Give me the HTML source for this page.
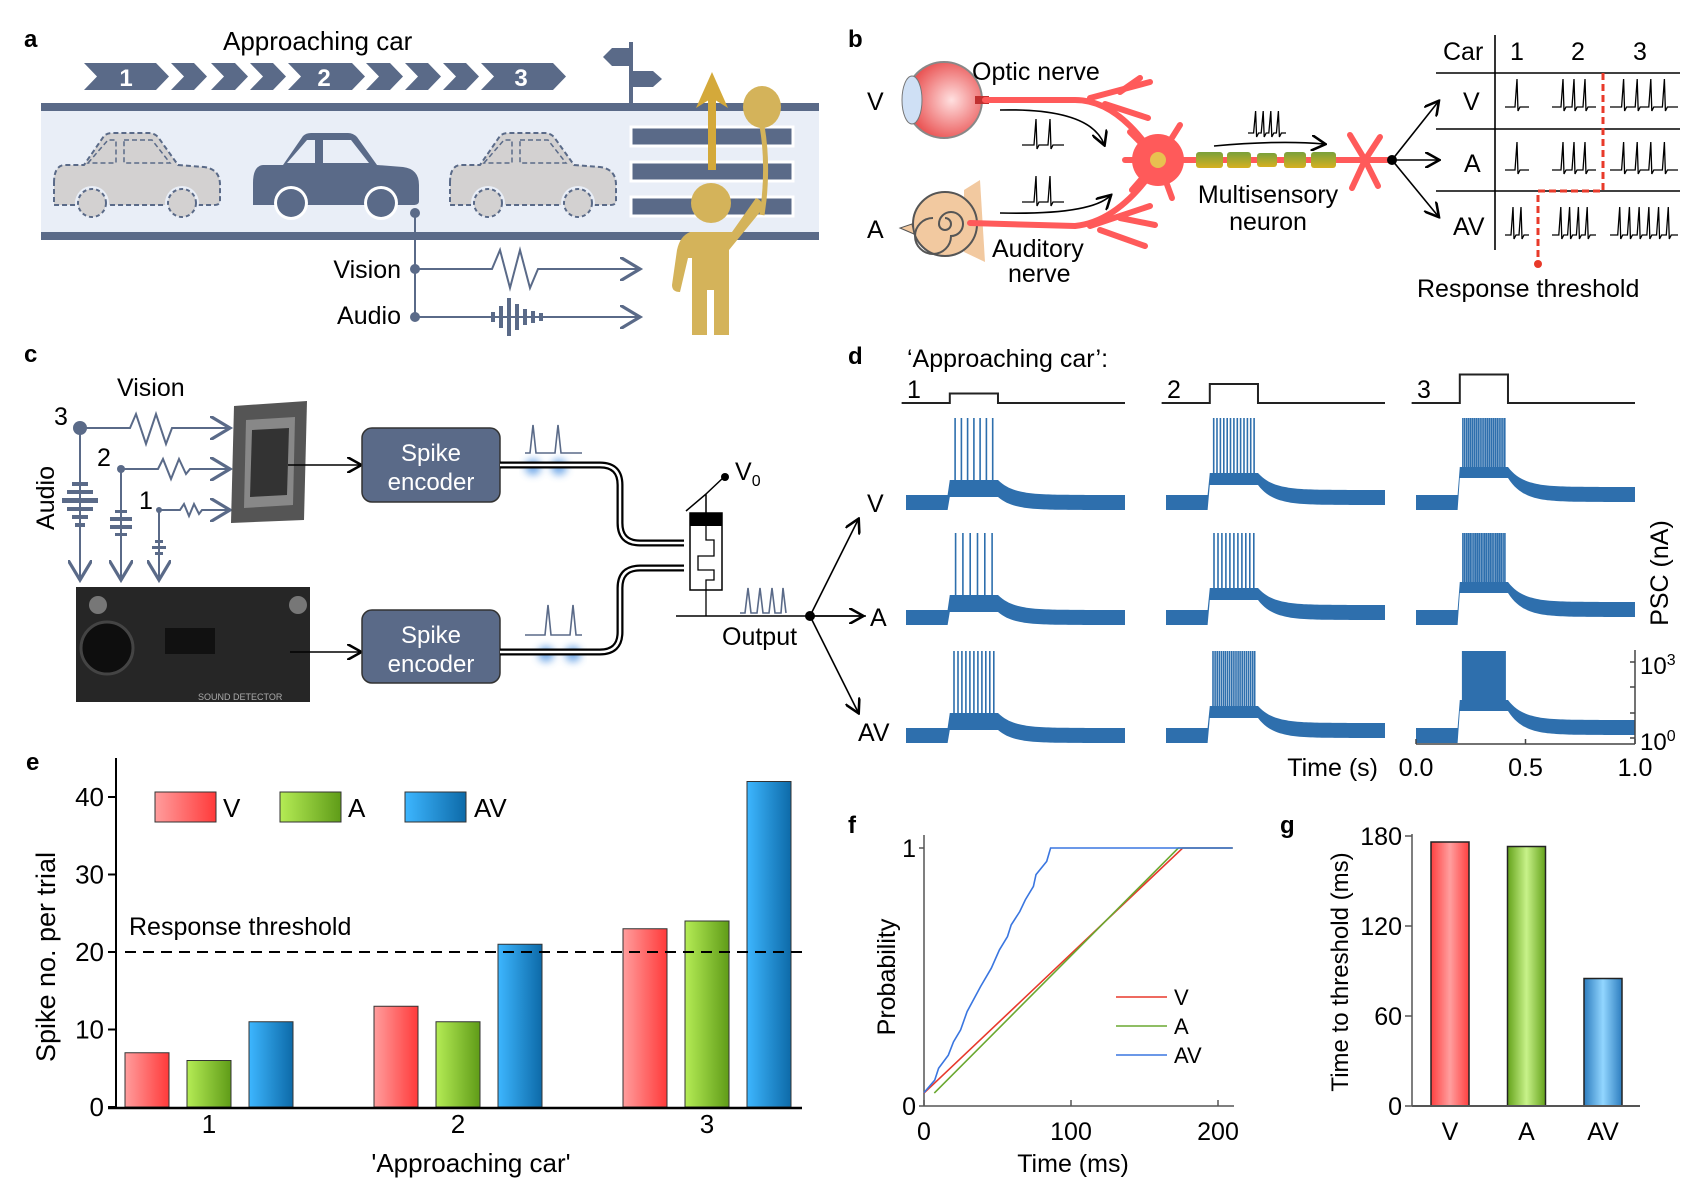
<!DOCTYPE html>
<html><head><meta charset="utf-8"><style>
html,body{margin:0;padding:0;background:#fff}
svg{display:block;font-family:"Liberation Sans",Arial,sans-serif}
</style></head><body>
<svg id="fig" width="1706" height="1188" viewBox="0 0 1706 1188" xmlns="http://www.w3.org/2000/svg">
<defs>
<linearGradient id="gV" x1="0" x2="1"><stop offset="0" stop-color="#ff9d9d"/><stop offset="1" stop-color="#ff3a3a"/></linearGradient>
<linearGradient id="gA" x1="0" x2="1"><stop offset="0" stop-color="#b5ec55"/><stop offset="1" stop-color="#5f9c18"/></linearGradient>
<linearGradient id="gAV" x1="0" x2="1"><stop offset="0" stop-color="#3db6ff"/><stop offset="1" stop-color="#0d6aa8"/></linearGradient>
<linearGradient id="hV" x1="0" x2="1"><stop offset="0" stop-color="#ff4040"/><stop offset="0.5" stop-color="#ff9f9f"/><stop offset="1" stop-color="#ff4040"/></linearGradient>
<linearGradient id="hA" x1="0" x2="1"><stop offset="0" stop-color="#64a21a"/><stop offset="0.5" stop-color="#c8f28a"/><stop offset="1" stop-color="#64a21a"/></linearGradient>
<linearGradient id="hAV" x1="0" x2="1"><stop offset="0" stop-color="#2d7dbf"/><stop offset="0.5" stop-color="#92d6ff"/><stop offset="1" stop-color="#2d7dbf"/></linearGradient>
<linearGradient id="myel" x1="0" y1="0" x2="0" y2="1"><stop offset="0" stop-color="#7aa03a"/><stop offset="1" stop-color="#d6b020"/></linearGradient>
<radialGradient id="eyeG" cx="0.6" cy="0.5" r="0.6"><stop offset="0" stop-color="#ffe0e0"/><stop offset="1" stop-color="#e84848"/></radialGradient>
<filter id="blur"><feGaussianBlur stdDeviation="4"/></filter>
<marker id="arr" markerWidth="10" markerHeight="10" refX="8" refY="5" orient="auto"><path d="M0,0 L9,5 L0,10" fill="none" stroke="#000" stroke-width="1.6"/></marker>
<marker id="arrG" markerWidth="12" markerHeight="12" refX="9" refY="6" orient="auto"><path d="M0,0 L10,6 L0,12" fill="none" stroke="#5a6a88" stroke-width="1.6"/></marker>
</defs>

<!-- Panel letters -->
<g font-weight="bold" font-size="24">
<text x="24" y="47">a</text>
<text x="848" y="47">b</text>
<text x="24" y="362">c</text>
<text x="848" y="364">d</text>
<text x="26" y="770">e</text>
<text x="848" y="833">f</text>
<text x="1280" y="833">g</text>
</g>

<!-- ===== Panel a ===== -->
<g id="panelA">
<text x="223" y="50" font-size="26">Approaching car</text>
<g id="chev" fill="#5a6a88"></g>
<g fill="#fff" font-weight="bold" font-size="24" text-anchor="middle">
<text x="126" y="86">1</text><text x="324" y="86">2</text><text x="521" y="86">3</text></g>
<g><line x1="631" y1="42" x2="631" y2="104" stroke="#5a6a88" stroke-width="4"/>
<polygon points="603,57 612,48 631,48 631,66 612,66" fill="#5a6a88"/><polygon points="631,71 653,71 662,79 653,87 631,87" fill="#5a6a88"/></g>
<rect x="41" y="103" width="778" height="136" fill="#e9eef7"/>
<rect x="41" y="103" width="778" height="8" fill="#5a6a88"/>
<rect x="41" y="232" width="778" height="8" fill="#5a6a88"/>
<g id="cars"></g>
<g fill="#5a6a88" stroke="#fff" stroke-width="3">
<rect x="631" y="127" width="162" height="19"/><rect x="631" y="162" width="162" height="19"/><rect x="631" y="197" width="162" height="19"/></g>
<g>
<line x1="712" y1="170" x2="712" y2="90" stroke="#d4a93a" stroke-width="8"/>
<polygon points="712,72 696,108 712,98 728,108" fill="#d4a93a"/>
<path d="M762,126 Q768,160 764,200 L762,215" fill="none" stroke="#d4b35a" stroke-width="5"/>
<ellipse cx="762" cy="107" rx="19" ry="21" fill="#d4b35a"/>
<circle cx="711" cy="203" r="20" fill="#d4b35a"/>
<path d="M690,232 Q680,236 677,250 L672,285 Q672,292 680,292 L688,258 L692,258 L692,335 L707,335 L707,290 L714,290 L714,335 L729,335 L729,250 L760,212 Q766,202 756,198 L732,232 Z" fill="#d4b35a"/>
</g>
<g stroke="#5a6a88" stroke-width="2" fill="none">
<line x1="415" y1="213" x2="415" y2="317"/>
<circle cx="415" cy="213" r="4" fill="#5a6a88"/><circle cx="415" cy="269" r="4" fill="#5a6a88"/><circle cx="415" cy="317" r="4" fill="#5a6a88"/>
<path d="M415,269 L492,269 L500,250 L510,288 L520,250 L530,288 L538,269 L638,269" marker-end="url(#arrG)"/>
<path d="M415,317 L638,317" marker-end="url(#arrG)"/>
<g stroke-width="4"><line x1="493" y1="312" x2="493" y2="322"/><line x1="501" y1="306" x2="501" y2="328"/><line x1="509" y1="298" x2="509" y2="336"/><line x1="517" y1="304" x2="517" y2="330"/><line x1="525" y1="309" x2="525" y2="325"/><line x1="533" y1="311" x2="533" y2="323"/><line x1="541" y1="313" x2="541" y2="321"/></g>
</g>
<text x="401" y="278" font-size="25" text-anchor="end">Vision</text>
<text x="401" y="324" font-size="25" text-anchor="end">Audio</text>
</g>

<!-- ===== Panel b ===== -->
<g id="panelB">
<text x="867" y="110" font-size="25">V</text>
<text x="867" y="238" font-size="25">A</text>
<g><circle cx="944" cy="100" r="38" fill="url(#eyeG)" stroke="#888" stroke-width="2"/>
<ellipse cx="912" cy="100" rx="10" ry="24" fill="#cfe0f5" stroke="#777"/><rect x="975" y="96" width="14" height="8" fill="#c03030"/></g>
<g><polygon points="964,190 980,180 985,262 964,252" fill="#f2c9a0"/>
<circle cx="945" cy="224" r="32" fill="#f2c9a0" stroke="#555" stroke-width="2"/>
<path d="M945,224 m0,-6 a6,6 0 1,1 -6,6 a12,12 0 1,1 12,12 a18,18 0 1,1 -18,-18" fill="none" stroke="#555" stroke-width="2"/>
<polygon points="912,224 900,228 914,234" fill="#f2c9a0" stroke="#555"/></g>
<g stroke="#ff5a5a" stroke-width="6" fill="none" stroke-linecap="round">
<path d="M985,100 L1075,100 Q1115,100 1150,150"/><path d="M1090,98 L1150,82"/><path d="M1105,104 L1148,118"/><path d="M1120,92 L1140,78"/>
<path d="M970,223 L1075,226 Q1115,222 1150,175"/><path d="M1090,226 L1150,206"/><path d="M1100,230 L1145,246"/><path d="M1120,218 L1155,225"/>
<path d="M1150,160 L1390,160"/><path d="M1158,160 L1130,132"/><path d="M1158,160 L1180,125"/><path d="M1158,160 L1132,190"/><path d="M1158,160 L1172,198"/><path d="M1158,160 L1125,160"/>
<path d="M1365,160 L1350,135"/><path d="M1365,160 L1380,137"/><path d="M1365,160 L1352,188"/><path d="M1365,160 L1378,186"/>
</g>
<circle cx="1158" cy="160" r="26" fill="#ff5a5a"/><circle cx="1158" cy="160" r="8" fill="#e8c050"/>
<g fill="url(#myel)">
<rect x="1196" y="152" width="27" height="16" rx="3"/><rect x="1227" y="152" width="24" height="16" rx="3"/><rect x="1257" y="153" width="20" height="14" rx="3"/><rect x="1284" y="152" width="22" height="16" rx="3"/><rect x="1311" y="152" width="25" height="16" rx="3"/></g>
<text x="972" y="80" font-size="25">Optic nerve</text>
<text x="992" y="257" font-size="25">Auditory</text>
<text x="1008" y="282" font-size="25">nerve</text>
<text x="1268" y="203" font-size="25" text-anchor="middle">Multisensory</text>
<text x="1268" y="230" font-size="25" text-anchor="middle">neuron</text>
<g fill="none" stroke="#000" stroke-width="1.6">
<path d="M1000,110 Q1090,108 1104,144" marker-end="url(#arr)"/><path d="M1000,213 Q1090,215 1110,196" marker-end="url(#arr)"/><path d="M1214,146 Q1280,140 1324,144" marker-end="url(#arr)"/>
<path d="M1392,160 L1438,102" marker-end="url(#arr)"/><path d="M1392,160 L1438,160" marker-end="url(#arr)"/><path d="M1392,160 L1438,216" marker-end="url(#arr)"/></g>
<circle cx="1392" cy="160" r="5" fill="#000"/>
<g id="bSpikes" fill="none" stroke="#000" stroke-width="1.3"></g>
<g stroke="#000" stroke-width="1.6">
<line x1="1495" y1="35" x2="1495" y2="250"/><line x1="1436" y1="73" x2="1680" y2="73"/><line x1="1436" y1="129" x2="1680" y2="129"/><line x1="1436" y1="191" x2="1680" y2="191"/></g>
<g font-size="25">
<text x="1443" y="60">Car</text><text x="1510" y="60">1</text><text x="1571" y="60">2</text><text x="1633" y="60">3</text>
<text x="1463" y="110">V</text><text x="1464" y="172">A</text><text x="1453" y="235">AV</text></g>
<path d="M1603,73 L1603,191 L1538,191 L1538,262" fill="none" stroke="#e83a2a" stroke-width="3" stroke-dasharray="7,4"/>
<circle cx="1538" cy="264" r="4" fill="#e83a2a"/>
<text x="1417" y="297" font-size="25">Response threshold</text>
</g>

<!-- ===== Panel c ===== -->
<g id="panelC">
<text x="117" y="396" font-size="25">Vision</text>
<text transform="translate(54,498) rotate(-90)" font-size="25" text-anchor="middle">Audio</text>
<g font-size="25"><text x="54" y="425">3</text><text x="97" y="466">2</text><text x="139" y="509">1</text></g>
<g stroke="#5a6a88" stroke-width="2" fill="none">
<path d="M80,428 L130,428 L136,414 L146,444 L156,414 L166,444 L172,428 L228,428" marker-end="url(#arrG)"/>
<path d="M121,469 L158,469 L163,459 L171,479 L179,459 L186,474 L190,469 L228,469" marker-end="url(#arrG)"/>
<path d="M159,510 L180,510 L184,504 L189,516 L194,504 L199,514 L202,510 L228,510" marker-end="url(#arrG)"/>
<path d="M80,428 L80,578" marker-end="url(#arrG)"/><path d="M121,469 L121,578" marker-end="url(#arrG)"/><path d="M159,510 L159,578" marker-end="url(#arrG)"/>
</g>
<g fill="#5a6a88">
<circle cx="80" cy="428" r="7"/><circle cx="121" cy="469" r="4"/><circle cx="159" cy="510" r="3"/>
<rect x="72" y="482" width="16" height="4"/><rect x="67" y="490" width="26" height="4"/><rect x="62" y="498" width="36" height="5"/><rect x="67" y="507" width="26" height="4"/><rect x="72" y="515" width="16" height="4"/><rect x="75" y="523" width="10" height="4"/>
<rect x="115" y="510" width="12" height="3"/><rect x="110" y="517" width="22" height="4"/><rect x="110" y="525" width="22" height="4"/><rect x="115" y="533" width="12" height="3"/>
<rect x="155" y="540" width="8" height="3"/><rect x="152" y="546" width="14" height="3"/><rect x="155" y="552" width="8" height="3"/></g>
<g><polygon points="234,406 307,401 304,520 231,523" fill="#555"/><polygon points="246,420 295,417 293,505 244,508" fill="#888"/><polygon points="252,430 289,428 287,495 250,497" fill="#333"/></g>
<g><rect x="76" y="587" width="234" height="115" fill="#262626"/>
<circle cx="107" cy="648" r="26" fill="#0e0e0e" stroke="#444" stroke-width="3"/><rect x="165" y="628" width="50" height="26" fill="#111"/>
<circle cx="98" cy="605" r="9" fill="#777"/><circle cx="298" cy="605" r="9" fill="#777"/>
<text x="198" y="700" font-size="9" fill="#aaa">SOUND DETECTOR</text></g>
<g stroke="#000" stroke-width="1.6" fill="none">
<path d="M288,465 L360,465" marker-end="url(#arr)"/><path d="M290,652 L360,652" marker-end="url(#arr)"/></g>
<g><rect x="362" y="428" width="138" height="74" rx="10" fill="#5a6a88" stroke="#333" stroke-width="1.5"/>
<text x="431" y="461" fill="#fff" font-size="24" text-anchor="middle">Spike</text><text x="431" y="490" fill="#fff" font-size="24" text-anchor="middle">encoder</text></g>
<g><rect x="362" y="610" width="138" height="73" rx="10" fill="#5a6a88" stroke="#333" stroke-width="1.5"/>
<text x="431" y="643" fill="#fff" font-size="24" text-anchor="middle">Spike</text><text x="431" y="672" fill="#fff" font-size="24" text-anchor="middle">encoder</text></g>
<g fill="#4a90e2" opacity="0.75" filter="url(#blur)">
<circle cx="533" cy="467" r="8"/><circle cx="559" cy="467" r="8"/><circle cx="546" cy="654" r="8"/><circle cx="573" cy="654" r="8"/></g>
<g fill="none">
<path d="M500,465 L600,465 Q620,465 620,485 L620,523 Q620,543 640,543 L684,543" stroke="#000" stroke-width="7"/>
<path d="M500,465 L600,465 Q620,465 620,485 L620,523 Q620,543 640,543 L684,543" stroke="#fff" stroke-width="2.5"/>
<path d="M500,652 L600,652 Q620,652 620,632 L620,588 Q620,568 640,568 L684,568" stroke="#000" stroke-width="7"/>
<path d="M500,652 L600,652 Q620,652 620,632 L620,588 Q620,568 640,568 L684,568" stroke="#fff" stroke-width="2.5"/></g>
<g fill="none" stroke="#5a6a88" stroke-width="1.6">
<path d="M525,453 L530,453 L533,425 L536,453 L555,453 L558,425 L561,453 L582,453"/>
<path d="M525,635 L545,635 L548,605 L551,635 L570,635 L573,605 L576,635 L582,635"/>
<path d="M740,613 L745,613 L748,588 L751,613 L757,613 L760,588 L763,613 L769,613 L772,588 L775,613 L781,613 L783,588 L786,613"/></g>
<g><rect x="690" y="513" width="32" height="77" fill="#fff" stroke="#000" stroke-width="1.5"/><rect x="690" y="513" width="32" height="13" fill="#000"/>
<path d="M706,526 L706,540 L714,540 L714,556 L698,556 L698,570 L714,570 L714,580 L706,580 L706,616" fill="none" stroke="#000" stroke-width="1.3"/>
<path d="M706,513 L706,494 L686,511 M706,494 L724,477" fill="none" stroke="#000" stroke-width="1.5"/><circle cx="725" cy="477" r="4"/>
<line x1="676" y1="616" x2="866" y2="616" stroke="#000" stroke-width="1.6"/></g>
<text x="735" y="480" font-size="25">V<tspan font-size="16" dy="6">0</tspan></text>
<text x="722" y="645" font-size="25">Output</text>
<circle cx="810" cy="616" r="5" fill="#000"/>
<g fill="none" stroke="#000" stroke-width="1.6">
<path d="M810,616 L858,520" marker-end="url(#arr)"/><path d="M810,616 L862,616" marker-end="url(#arr)"/><path d="M810,616 L858,712" marker-end="url(#arr)"/></g>
</g>

<!-- ===== Panel d ===== -->
<g id="panelD">
<text x="907" y="367" font-size="25">‘Approaching car’:</text>
<g id="dStimG"></g>
<g id="dTraceG"></g>
<g font-size="25"><text x="867" y="512">V</text><text x="870" y="626">A</text><text x="858" y="741">AV</text></g>
<g id="dAxes"></g>
<text x="1378" y="776" font-size="25" text-anchor="end">Time (s)</text>
<text transform="translate(1668,573) rotate(-90)" font-size="25" text-anchor="middle">PSC (nA)</text>
</g>

<!-- ===== Panel e ===== -->
<g id="panelE"></g>
<!-- ===== Panel f ===== -->
<g id="panelF"></g>
<!-- ===== Panel g ===== -->
<g id="panelG"></g>
</svg>

<script>
// ---------- Panel e data ----------
const eCategories = ['1', '2', '3'];
const eSeriesV = [7, 13, 23];
const eSeriesA = [6, 11, 24];
const eSeriesAV = [11, 21, 42];
const eYTicks = [0, 10, 20, 30, 40];
const eThreshold = 20;
// ---------- Panel f data ----------
const fTimeV = [0, 176, 210];
const fProbV = [0.05, 1, 1];
const fTimeA = [7, 173, 210];
const fProbA = [0.05, 1, 1];
const fTimeAV = [0, 7.3, 9.9, 16.5, 20.1, 24.9, 29.3, 38.5, 45.8, 51.3, 56.8, 59.3, 65.2, 68.9, 74.4, 76.2, 83.5, 86.1, 210];
const fProbAV = [0.052, 0.10, 0.146, 0.197, 0.249, 0.295, 0.366, 0.463, 0.534, 0.605, 0.657, 0.702, 0.754, 0.799, 0.851, 0.897, 0.948, 1.0, 1.0];
const fXTicks = [0, 100, 200];
const fYTicks = [0, 1];
// ---------- Panel g data ----------
const gCategories = ['V', 'A', 'AV'];
const gValues = [176, 173, 85];
const gYTicks = [0, 60, 120, 180];
// ---------- Panel d data ----------
const dRowNames = ['V', 'A', 'AV'];
const dSpikeCountV = [7, 13, 23];
const dSpikeCountA = [6, 11, 24];
const dSpikeCountAV = [11, 21, 42];
const dStimLevel = [1, 2, 3];
const dXTicks = [0.0, 0.5, 1.0];
const dXTickLabels = ['0.0', '0.5', '1.0'];
// ---------- Panel b glyph spike counts ----------
const bTableSpikes = [[1, 3, 4], [1, 3, 4], [2, 4, 6]];

const NS = 'http://www.w3.org/2000/svg';
function mk(tag, attrs, parent) {
  const el = document.createElementNS(NS, tag);
  for (const k in attrs) el.setAttribute(k, attrs[k]);
  parent.appendChild(el);
  return el;
}
function txt(s, attrs, parent) { const t = mk('text', attrs, parent); t.textContent = s; return t; }

// ---------- Panel a: chevrons & cars ----------
(function () {
  const g = document.getElementById('chev');
  const segs = [[84,169],[171,207],[211,248],[250,286],[288,365],[366,403],[405,441],[443,479],[481,566]];
  segs.forEach(s => {
    const [a, b] = s;
    const p = mk('polygon', { points: `${a},63 ${b-13},63 ${b},76.5 ${b-13},90 ${a},90 ${a+13},76.5` }, g);
    
    
  });
  const cars = document.getElementById('cars');
  const body = 'M0,50 Q0,33 10,32 L30,32 L50,3 Q53,0 58,0 L95,0 Q100,0 104,4 L124,32 L150,34 Q166,36 166,52 L166,68 Q166,72 160,72 L0,72 Z';
  [[54, 'ghost'], [253, 'solid'], [450, 'ghost']].forEach((c, i) => {
    const g2 = mk('g', { transform: `translate(${c[0]},133)` }, cars);
    
    
    const solid = c[1] === 'solid';
    mk('path', { d: body, fill: solid ? '#5a6a88' : '#d3d1d1', stroke: solid ? 'none' : '#5a6a88', 'stroke-width': 2, 'stroke-dasharray': '5,3' }, g2);
    const wfill = solid ? '#e9eef7' : '#d3d1d1';
    mk('polygon', { points: '34,30 54,7 62,7 62,30', fill: wfill, stroke: solid ? 'none' : '#5a6a88', 'stroke-dasharray': '5,3', 'stroke-width': 1.5 }, g2);
    mk('polygon', { points: '70,7 98,7 116,30 70,30', fill: wfill, stroke: solid ? 'none' : '#5a6a88', 'stroke-dasharray': '5,3', 'stroke-width': 1.5 }, g2);
    [38, 128].forEach(wx => {
      mk('circle', { cx: wx, cy: 70, r: 17, fill: solid ? '#fff' : '#e9eef7' }, g2);
      mk('circle', { cx: wx, cy: 70, r: 14, fill: solid ? '#5a6a88' : '#d3d1d1', stroke: solid ? 'none' : '#5a6a88', 'stroke-width': 2, 'stroke-dasharray': '4,3' }, g2);
    });
  });
})();

// ---------- Panel b: spike glyphs ----------
(function () {
  const g = document.getElementById('bSpikes');
  function glyph(x, yb, h, n, w) {
    let d = `M${x},${yb}`; const step = w / (n + 1);
    for (let i = 1; i <= n; i++) { const sx = x + step * i; d += ` L${sx - 2},${yb} L${sx},${yb - h} L${sx + 1},${yb + 4} L${sx + 3},${yb}`; }
    d += ` L${x + w},${yb}`;
    const p = mk('path', { d: d }, g);
    
    
  }
  glyph(1022, 145, 26, 2, 42);
  glyph(1022, 202, 26, 2, 42);
  glyph(1248, 133, 22, 4, 38);
  const rowsY = [107, 170, 235], colsX = [1505, 1552, 1610], colsW = [24, 44, 68];
  bTableSpikes.forEach((row, r) => row.forEach((n, c) => glyph(colsX[c], rowsY[r], 28, n, colsW[c])));
})();

// ---------- Panel d ----------
(function () {
  const stimG = document.getElementById('dStimG');
  const trG = document.getElementById('dTraceG');
  const colX = [906, 1166, 1416], W = 219;
  const rowBase = [510, 625, 743];
  const counts = [dSpikeCountV, dSpikeCountA, dSpikeCountAV];
  const lowL = [13, 25, 32], upL = [30, 37, 43], tailL = [0, 5, 8];
  const t0 = 0.2, t1 = 0.42;
  colX.forEach((x0, c) => {
    const X = t => x0 + t * W;
    const yb = 403, top = yb - dStimLevel[c] * 9.5;
    const s = mk('path', { d: `M${X(-0.02)},${yb} L${X(t0)},${yb} L${X(t0)},${top} L${X(t1)},${top} L${X(t1)},${yb} L${X(1)},${yb}`, fill: 'none', stroke: '#222', 'stroke-width': 2 }, stimG);
    
    
    const lab = txt(String(c + 1), { x: x0 + 1, y: 398, 'font-size': 25 }, stimG);
    
    
  });
  rowBase.forEach((yb, r) => {
    colX.forEach((x0, c) => {
      const X = t => x0 + t * W;
      const g = mk('g', {}, trG);
      
      
      const topPts = [], botPts = [];
      for (let i = 0; i <= 100; i++) {
        const t = i / 100;
        let bot, tp;
        if (t < t0) { bot = yb; tp = yb - 15; }
        else if (t <= t1) { bot = yb - lowL[c]; tp = yb - upL[c]; }
        else { const k = Math.exp(-(t - t1) / 0.07); const off = tailL[c] + (lowL[c] - tailL[c]) * k; bot = yb - off; tp = bot - 15 - (upL[c] - lowL[c] - 15) * k; }
        topPts.push(`${X(t).toFixed(1)},${tp.toFixed(1)}`); botPts.unshift(`${X(t).toFixed(1)},${bot.toFixed(1)}`);
        if (i === 20) { topPts.push(`${X(t).toFixed(1)},${(yb - upL[c]).toFixed(1)}`); botPts.unshift(`${X(t).toFixed(1)},${(yb - lowL[c]).toFixed(1)}`); }
      }
      mk('polygon', { points: topPts.concat(botPts).join(' '), fill: '#2e6fad' }, g);
      const n = counts[r][c];
      let d = '';
      for (let k = 0; k < n; k++) {
        const t = t0 + 0.01 + (t1 - t0 - 0.02) * (k + 0.5) / n;
        d += `M${X(t).toFixed(1)},${yb - upL[c]} L${X(t).toFixed(1)},${yb - 92} `;
      }
      mk('path', { d: d, stroke: '#2e6fad', 'stroke-width': n > 30 ? 1.2 : 1.6, fill: 'none' }, g);
    });
  });
  const ax = document.getElementById('dAxes');
  const x0 = 1416, yA = 744;
  const xa = mk('line', { x1: x0, y1: yA, x2: x0 + W, y2: yA, stroke: '#444', 'stroke-width': 1.5 }, ax);
  
  
  dXTicks.forEach((v, i) => {
    mk('line', { x1: x0 + v * W, y1: yA, x2: x0 + v * W, y2: yA - 5, stroke: '#444', 'stroke-width': 1.5 }, ax);
    const t = txt(dXTickLabels[i], { x: x0 + v * W, y: 776, 'font-size': 25, 'text-anchor': 'middle' }, ax);
    
    
  });
  const ya = mk('line', { x1: 1635, y1: 650, x2: 1635, y2: 744, stroke: '#444', 'stroke-width': 1.5 }, ax);
  
  
  [662, 687, 713, 738].forEach(y => mk('line', { x1: 1635, y1: y, x2: 1630, y2: y, stroke: '#444', 'stroke-width': 1.5 }, ax));
  const l3 = txt('10', { x: 1640, y: 674, 'font-size': 24 }, ax); mk('tspan', { dy: -9, 'font-size': 16 }, l3).textContent = '3';
  
  
  const l0 = txt('10', { x: 1640, y: 750, 'font-size': 24 }, ax); mk('tspan', { dy: -9, 'font-size': 16 }, l0).textContent = '0';
  
  
})();

// ---------- Panel e ----------
(function () {
  const g = document.getElementById('panelE');
  const y = v => 1107 - v * 7.75;
  const xc = i => 209 + i * 249;
  const off = [-62, 0, 62], bw = 44;
  const ya = mk('line', { x1: 116, y1: 758, x2: 116, y2: 1108, stroke: '#000', 'stroke-width': 2 }, g);
  
  
  eYTicks.forEach(v => {
    mk('line', { x1: 108, y1: y(v), x2: 116, y2: y(v), stroke: '#000', 'stroke-width': 2 }, g);
    const t = txt(String(v), { x: 104, y: y(v) + 9, 'font-size': 26, 'text-anchor': 'end' }, g);
    
    
  });
  const series = [[eSeriesV, 'url(#gV)', 'V'], [eSeriesA, 'url(#gA)', 'A'], [eSeriesAV, 'url(#gAV)', 'AV']];
  eCategories.forEach((cat, i) => {
    series.forEach((s, j) => {
      const v = s[0][i];
      const r = mk('rect', { x: xc(i) + off[j] - bw / 2, y: y(v), width: bw, height: y(0) - y(v), fill: s[1], stroke: '#333', 'stroke-width': 1 }, g);
      
      
    });
    const t = txt(cat, { x: xc(i), y: 1133, 'font-size': 26, 'text-anchor': 'middle' }, g);
    
    
  });
  const xa = mk('line', { x1: 108, y1: 1108, x2: 802, y2: 1108, stroke: '#000', 'stroke-width': 2.5 }, g);
  
  
  const th = mk('line', { x1: 125, y1: y(eThreshold), x2: 802, y2: y(eThreshold), stroke: '#000', 'stroke-width': 2, 'stroke-dasharray': '11,7' }, g);
  
  
  const tl = txt('Response threshold', { x: 129, y: 935, 'font-size': 25 }, g);
  
  
  [[155, 223, 'url(#gV)', 'V'], [280, 348, 'url(#gA)', 'A'], [405, 474, 'url(#gAV)', 'AV']].forEach(L => {
    const lg = mk('g', {}, g);
    
    
    mk('rect', { x: L[0], y: 792, width: 61, height: 30, fill: L[2], stroke: '#333', 'stroke-width': 1 }, lg);
    txt(L[3], { x: L[1], y: 817, 'font-size': 26 }, lg);
  });
  const xt = txt("'Approaching car'", { x: 471, y: 1172, 'font-size': 26, 'text-anchor': 'middle' }, g);
  
  
  const yt = txt('Spike no. per trial', { transform: 'translate(55,957) rotate(-90)', 'font-size': 27, 'text-anchor': 'middle' }, g);
  
  
})();

// ---------- Panel f ----------
(function () {
  const g = document.getElementById('panelF');
  const x = t => 924 + t * 1.47;
  const y = p => 1106 - p * 258;
  const ya = mk('line', { x1: x(0), y1: 835, x2: x(0), y2: 1106, stroke: '#555', 'stroke-width': 1.5 }, g);
  
  
  const xa = mk('line', { x1: x(0), y1: 1106, x2: 1234, y2: 1106, stroke: '#555', 'stroke-width': 1.5 }, g);
  
  
  fXTicks.forEach(v => {
    mk('line', { x1: x(v), y1: 1106, x2: x(v), y2: 1100, stroke: '#555', 'stroke-width': 1.5 }, g);
    const t = txt(String(v), { x: x(v), y: 1140, 'font-size': 25, 'text-anchor': 'middle' }, g);
    
    
  });
  fYTicks.forEach(v => {
    mk('line', { x1: x(0), y1: y(v), x2: x(0) - 5, y2: y(v), stroke: '#555', 'stroke-width': 1.5 }, g);
    const t = txt(String(v), { x: 916, y: y(v) + 9, 'font-size': 25, 'text-anchor': 'end' }, g);
    
    
  });
  const series = [[fTimeV, fProbV, '#e8392c', 'V'], [fTimeA, fProbA, '#6aa830', 'A'], [fTimeAV, fProbAV, '#3a76e0', 'AV']];
  series.forEach((s, i) => {
    const pts = s[0].map((t, k) => `${x(t).toFixed(1)},${y(s[1][k]).toFixed(1)}`).join(' ');
    const l = mk('polyline', { points: pts, fill: 'none', stroke: s[2], 'stroke-width': 1.6 }, g);
    
    
    const lg = mk('g', {}, g);
    
    
    mk('line', { x1: 1116, y1: 997 + i * 29, x2: 1167, y2: 997 + i * 29, stroke: s[2], 'stroke-width': 1.6 }, lg);
    txt(s[3], { x: 1174, y: 1005 + i * 29, 'font-size': 22 }, lg);
  });
  const xt = txt('Time (ms)', { x: 1073, y: 1172, 'font-size': 25, 'text-anchor': 'middle' }, g);
  
  
  const yt = txt('Probability', { transform: 'translate(895,977) rotate(-90)', 'font-size': 25, 'text-anchor': 'middle' }, g);
  
  
})();

// ---------- Panel g ----------
(function () {
  const g = document.getElementById('panelG');
  const y = v => 1106 - v * 1.5;
  const xc = i => 1450 + i * 76.5;
  const fills = ['url(#hV)', 'url(#hA)', 'url(#hAV)'];
  const ya = mk('line', { x1: 1412, y1: 834, x2: 1412, y2: 1106, stroke: '#555', 'stroke-width': 1.5 }, g);
  
  
  gYTicks.forEach(v => {
    mk('line', { x1: 1412, y1: y(v), x2: 1405, y2: y(v), stroke: '#555', 'stroke-width': 1.5 }, g);
    const t = txt(String(v), { x: 1402, y: y(v) + 9, 'font-size': 25, 'text-anchor': 'end' }, g);
    
    
  });
  gCategories.forEach((cat, i) => {
    const r = mk('rect', { x: xc(i) - 19, y: y(gValues[i]), width: 38, height: y(0) - y(gValues[i]), fill: fills[i], stroke: '#222', 'stroke-width': 1.5 }, g);
    
    
    const t = txt(cat, { x: xc(i), y: 1140, 'font-size': 25, 'text-anchor': 'middle' }, g);
    
    
  });
  const xa = mk('line', { x1: 1412, y1: 1106, x2: 1640, y2: 1106, stroke: '#555', 'stroke-width': 2 }, g);
  
  
  const yt = txt('Time to threshold (ms)', { transform: 'translate(1348,972) rotate(-90)', 'font-size': 24, 'text-anchor': 'middle' }, g);
  
  
})();
</script>
</body></html>
